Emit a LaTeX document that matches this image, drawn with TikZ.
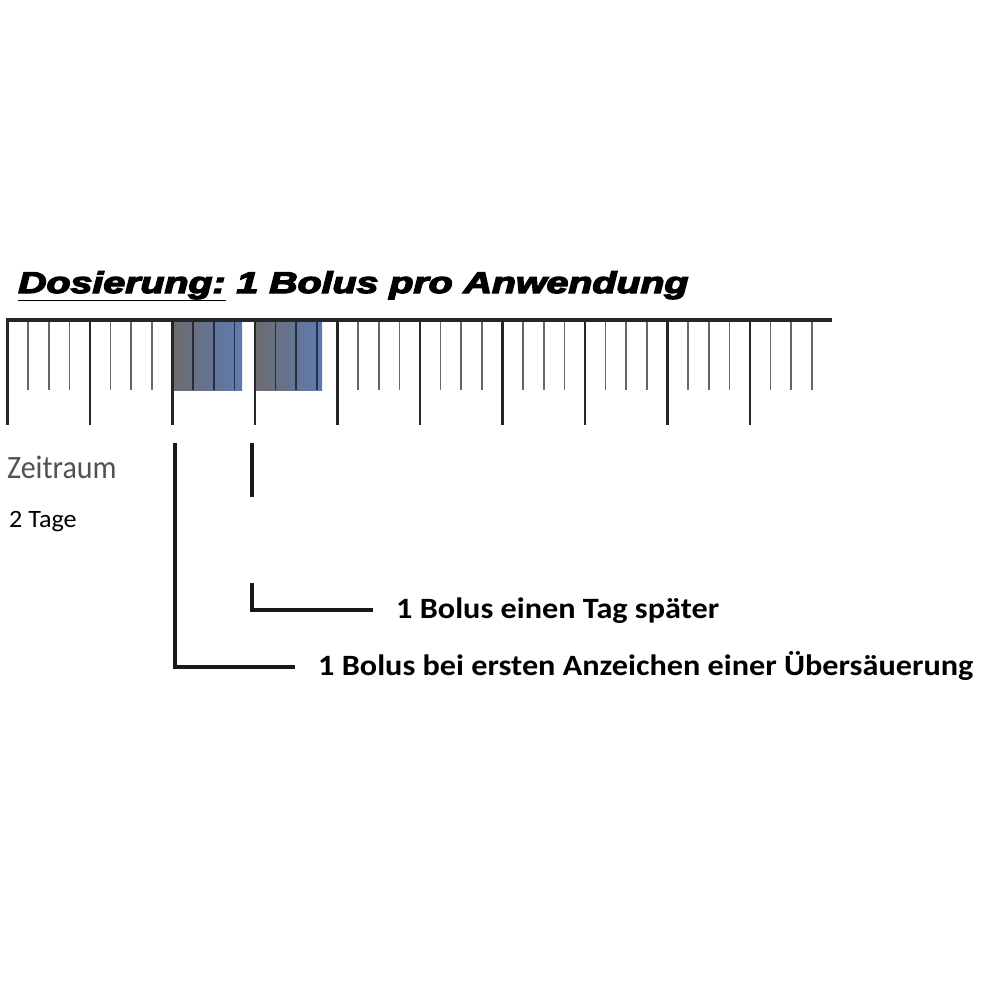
\documentclass[tikz,border=0pt]{standalone}
\usepackage{fontspec}
\setmainfont{Carlito}
\newfontface\titlefont[FakeBold=4]{Liberation Sans Bold Italic}
\begin{document}
\begin{tikzpicture}[x=1pt,y=-1pt,
  bigtick/.style={line width=2.6pt,draw=black!85},
  smalltick/.style={line width=1.6pt,draw=black,draw opacity=0.6},
  axisline/.style={line width=4.5pt,draw=black!85},
  brk/.style={line width=4pt,draw=black!90},
  boxshade/.style={left color=gray8,right color=blue8},
  lbl/.style={inner sep=0pt,anchor=base west}]
\definecolor{gray8}{RGB}{108,108,110}
\definecolor{blue8}{RGB}{95,122,178}
\useasboundingbox[fill=white] (0,0) rectangle (1000,1000);
% title
\node[lbl,font=\titlefont\fontsize{30}{30}\selectfont] (title) at (18,293)
  {\scalebox{1.31}[1]{\underline{Dosierung:} 1 Bolus pro Anwendung}};
% shaded boxes
\shade[boxshade] (172.5,320) rectangle (242,390);
\shade[boxshade] (255,320) rectangle (322,390);
% ticks
\foreach \k in {0,...,9}{
  \draw[bigtick] (7.5+82.5*\k,320) -- (7.5+82.5*\k,425);
  \foreach \j in {1,2,3}{
    \draw[smalltick] (7.5+82.5*\k+20.625*\j,320) -- (7.5+82.5*\k+20.625*\j,390);
  }
}
\draw[axisline] (6,320) -- (832,320);
% labels
\node[lbl,text=black!68,font=\fontsize{32.6}{32.6}\selectfont] (zeit) at (7,478) {\scalebox{0.92}[1]{Zeitraum}};
\node[lbl,font=\fontsize{25}{25}\selectfont] (tage) at (9,527) {\scalebox{1.045}[1]{2 Tage}};
\node[lbl,font=\bfseries\fontsize{29.5}{29.5}\selectfont] (t1) at (396,618) {\scalebox{1.093}[1]{1 Bolus einen Tag später}};
\node[lbl,font=\bfseries\fontsize{29.5}{29.5}\selectfont] (t2) at (318,675) {\scalebox{1.093}[1]{1 Bolus bei ersten Anzeichen einer Übersäuerung}};
% brackets
\coordinate (a1) at (175,443);
\coordinate (a2) at (295,667);
\coordinate (b0) at (252,443);
\coordinate (b1) at (252,497);
\coordinate (c1) at (252,583);
\coordinate (c2) at (373,610);
\draw[brk] (a1) |- (a2);
\draw[brk] (b0) -- (b1);
\draw[brk] (c1) |- (c2);
\end{tikzpicture}
\end{document}
